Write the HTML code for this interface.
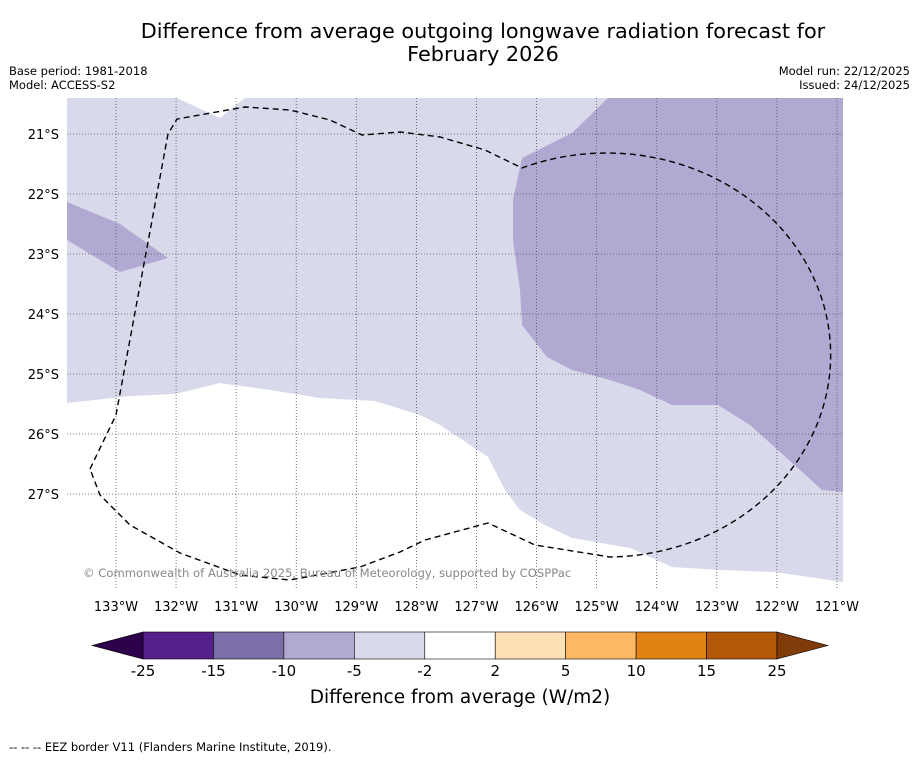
<!DOCTYPE html>
<html><head><meta charset="utf-8"><style>
body{margin:0;background:#fff;width:919px;height:758px;overflow:hidden;font-family:"DejaVu Sans","Liberation Sans",sans-serif}
text{font-family:"DejaVu Sans","Liberation Sans",sans-serif}
</style></head><body>
<svg id="c" width="919" height="758">
<text x="483" y="38" font-size="20.8" text-anchor="middle">Difference from average outgoing longwave radiation forecast for</text>
<text x="483" y="61" font-size="20.8" text-anchor="middle">February 2026</text>
<text x="9" y="75" font-size="11.5">Base period: 1981-2018</text>
<text x="9" y="89" font-size="11.5">Model: ACCESS-S2</text>
<text x="910" y="75" font-size="11.5" text-anchor="end">Model run: 22/12/2025</text>
<text x="910" y="89" font-size="11.5" text-anchor="end">Issued: 24/12/2025</text>
<g id="map">
<rect x="67" y="98" width="776" height="492" fill="#fff"/>
<polygon fill="#d8d9ea" points="67,98 177,98 220,118 245,98 843,98 843,582 775,572 720,570 672,567 630,548 572,538 545,525 520,510 505,490 488,457 440,425 420,415 375,401 320,398 270,390 220,383 175,394 130,396 67,403"/>
<polygon fill="#b1a9d2" points="608,98 843,98 843,492 822,490 800,470 750,425 718,405 672,405 640,390 610,380 572,370 547,357 522,325 520,290 513,240 513,200 522,158 572,133"/>
<polygon fill="#b1a9d2" points="67,202 120,224 168,258 120,272 67,240"/>
<g id="grid"></g>
<path fill="none" stroke="#000" stroke-width="1.4" stroke-dasharray="6,4" d="M90,469 L116,415 L168,134 L177,119 L245,107 L290,110 L330,120 L362,135 L400,132 L440,137 L485,150 L522,168 A224,202 0 1 1 610,557 L535,545 L488,523 L425,540 L400,552 L360,567 L290,580 L240,575 L180,553 L130,525 L100,495 Z"/>
<text x="83" y="577" font-size="11.6" fill="#888">© Commonwealth of Australia 2025, Bureau of Meteorology, supported by COSPPac</text>
</g>
<g id="axes"></g>
<g id="cbar"></g>
<text x="460" y="703" font-size="18.5" text-anchor="middle">Difference from average (W/m2)</text>
<text x="9" y="751" font-size="11.5">-- -- -- EEZ border V11 (Flanders Marine Institute, 2019).</text>
</svg>
<script>
const lonTicks=[133,132,131,130,129,128,127,126,125,124,123,122,121];
const latTicks=[21,22,23,24,25,26,27];
const levels=[-25,-15,-10,-5,-2,2,5,10,15,25];
const colors=["#56208a","#7d6eaa","#b1a9d2","#d8d9ea","#ffffff","#fee0b6","#fdb863","#e08214","#b35806"];
const lowColor="#2d004b", highColor="#7f3b08";
const NS="http://www.w3.org/2000/svg";
function xLon(l){return 116+(133-l)*60.08;}
function yLat(l){return 134+(l-21)*60;}
function mk(t,a,p){const e=document.createElementNS(NS,t);for(const k in a)e.setAttribute(k,a[k]);p.appendChild(e);return e;}
const grid=document.getElementById('grid'),axes=document.getElementById('axes'),cb=document.getElementById('cbar');
lonTicks.forEach(l=>{const x=xLon(l);
 const ln=mk('line',{x1:x,x2:x,y1:98,y2:590,stroke:'#555','stroke-width':0.8,'stroke-dasharray':'1,2'},grid);
 
 const t=mk('text',{x:x,y:611,'font-size':13,'text-anchor':'middle'},axes);t.textContent=l+'°W';
 });
latTicks.forEach(l=>{const y=yLat(l);
 const ln=mk('line',{x1:67,x2:843,y1:y,y2:y,stroke:'#555','stroke-width':0.8,'stroke-dasharray':'1,2'},grid);
 
 const t=mk('text',{x:59,y:y+5,'font-size':13,'text-anchor':'end'},axes);t.textContent=l+'°S';
 });
const cx0=143,cx1=777,cy=632,ch=27;
function xCb(i){return cx0+(cx1-cx0)*i/(levels.length-1);}
for(let i=0;i<colors.length;i++){
 const r=mk('rect',{x:xCb(i),y:cy,width:xCb(i+1)-xCb(i),height:ch,fill:colors[i],stroke:'#000','stroke-width':0.6},cb);
 }
const lo=mk('polygon',{points:`${cx0},${cy} ${cx0},${cy+ch} 92,${cy+ch/2}`,fill:lowColor,stroke:'#000','stroke-width':0.6},cb);

const hi=mk('polygon',{points:`${cx1},${cy} ${cx1},${cy+ch} 828,${cy+ch/2}`,fill:highColor,stroke:'#000','stroke-width':0.6},cb);

levels.forEach((v,i)=>{const t=mk('text',{x:xCb(i),y:676,'font-size':15,'text-anchor':'middle'},cb);t.textContent=v;
 });
</script>
</body></html>
